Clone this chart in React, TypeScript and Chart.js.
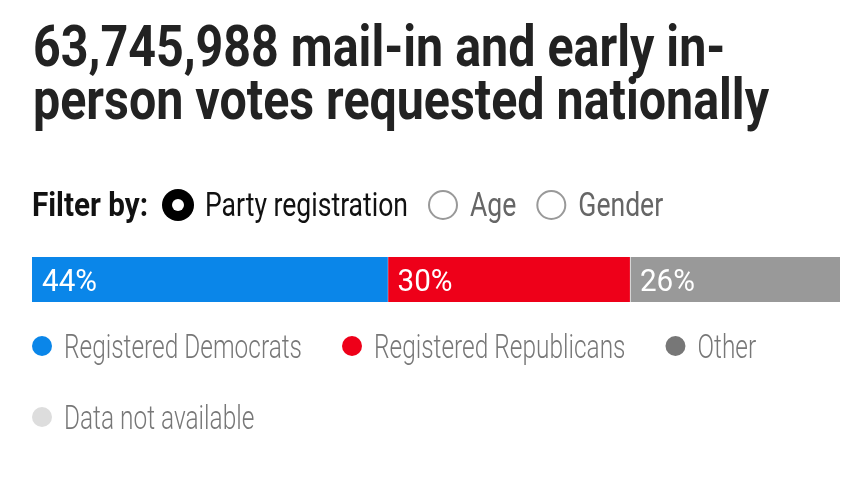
import React, { useEffect, useRef } from "react";
import { Chart, registerables } from "chart.js";

Chart.register(...registerables);

const TITLE_LINES = ["63,745,988 mail-in and early in-", "person votes requested nationally"];
const FILTER_LABEL = "Filter by:";
const FILTER_OPTIONS = ["Party registration", "Age", "Gender"];
const SELECTED_FILTER = 0;
const CATEGORIES = ["Registered Democrats", "Registered Republicans", "Other"];
const SHARES = [44, 30, 26];
const BAR_COLORS = ["#0a86e9", "#ee0019", "#999999"];
const LEGEND_LABELS = ["Registered Democrats", "Registered Republicans", "Other", "Data not available"];
const LEGEND_COLORS = ["#0a86e9", "#ee0019", "#777777", "#dddddd"];

const W = 849;
const H = 489;

function drawCondensed(
  ctx: CanvasRenderingContext2D,
  text: string,
  x: number,
  y: number,
  font: string,
  color: string,
  sx: number
): number {
  ctx.save();
  ctx.font = font;
  ctx.fillStyle = color;
  ctx.textBaseline = "alphabetic";
  ctx.textAlign = "left";
  ctx.translate(x, y);
  ctx.scale(sx, 1);
  ctx.fillText(text, 0, 0);
  const w = ctx.measureText(text).width * sx;
  ctx.restore();
  return w;
}

function scaleFor(ctx: CanvasRenderingContext2D, text: string, font: string, target: number): number {
  ctx.save();
  ctx.font = font;
  const w = ctx.measureText(text).width;
  ctx.restore();
  return target / w;
}

const decorPlugin = {
  id: "decor",
  beforeDraw(chart: any) {
    const ctx: CanvasRenderingContext2D = chart.ctx;
    ctx.save();
    ctx.fillStyle = "#ffffff";
    ctx.fillRect(0, 0, W, H);
    ctx.restore();

    // Title
    const titleFont = "700 58px Roboto";
    const ts = scaleFor(ctx, TITLE_LINES[1], titleFont, 736);
    drawCondensed(ctx, TITLE_LINES[0], 33, 66, titleFont, "#222222", ts);
    drawCondensed(ctx, TITLE_LINES[1], 33, 119, titleFont, "#222222", ts);

    // Filter row
    const fy = 216;
    const lblFont = "700 33px Roboto";
    const ls = scaleFor(ctx, FILTER_LABEL, lblFont, 116);
    let x = 32 + drawCondensed(ctx, FILTER_LABEL, 32, fy, lblFont, "#111111", ls);
    const optFont = "400 33px Roboto";
    const os = scaleFor(ctx, FILTER_OPTIONS[0], optFont, 203);
    FILTER_OPTIONS.forEach((opt, i) => {
      const cx = x + (i === 0 ? 30 : 35);
      const cy = 205;
      ctx.save();
      if (i === SELECTED_FILTER) {
        ctx.beginPath();
        ctx.arc(cx, cy, 16, 0, Math.PI * 2);
        ctx.fillStyle = "#000000";
        ctx.fill();
        ctx.beginPath();
        ctx.arc(cx, cy, 6, 0, Math.PI * 2);
        ctx.fillStyle = "#ffffff";
        ctx.fill();
      } else {
        ctx.beginPath();
        ctx.arc(cx, cy, 14, 0, Math.PI * 2);
        ctx.strokeStyle = "#999999";
        ctx.lineWidth = 2;
        ctx.stroke();
      }
      ctx.restore();
      const tx = cx + 27;
      const col = i === SELECTED_FILTER ? "#111111" : "#666666";
      x = tx + drawCondensed(ctx, opt, tx, fy, optFont, col, os);
    });

    // Legend
    const legFont = "300 33px Roboto";
    const gs = scaleFor(ctx, LEGEND_LABELS[0], legFont, 238);
    let lx = 42;
    let ly = 346;
    LEGEND_LABELS.forEach((lab, i) => {
      if (i === 3) {
        lx = 42;
        ly = 417;
      }
      ctx.save();
      ctx.beginPath();
      ctx.arc(lx, ly, 10, 0, Math.PI * 2);
      ctx.fillStyle = LEGEND_COLORS[i];
      ctx.fill();
      ctx.restore();
      const tw = drawCondensed(ctx, lab, lx + 22, ly + 12, legFont, "#777777", gs);
      lx = lx + 22 + tw + 50;
    });
  },
};

const labelPlugin = {
  id: "barLabels",
  afterDatasetsDraw(chart: any) {
    const ctx: CanvasRenderingContext2D = chart.ctx;
    const font = "400 32px Roboto";
    const s = scaleFor(ctx, "44%", font, 55);
    chart.data.datasets.forEach((ds: any, i: number) => {
      const meta = chart.getDatasetMeta(i);
      const el: any = meta.data[0];
      if (!el) return;
      const left = Math.min(el.x, el.base);
      drawCondensed(ctx, `${ds.data[0]}%`, left + 10, el.y + 11, font, "#ffffff", s);
    });
  },
};

export default function App() {
  const ref = useRef<HTMLCanvasElement | null>(null);
  useEffect(() => {
    if (!ref.current) return;
    const chart = new Chart(ref.current, {
      type: "bar",
      data: {
        labels: [""],
        datasets: CATEGORIES.map((c, i) => ({
          label: c,
          data: [SHARES[i]],
          backgroundColor: BAR_COLORS[i],
          borderColor: "#ffffff",
          borderWidth: i === 0 ? 0 : { left: 1, top: 0, right: 0, bottom: 0 },
          borderSkipped: false,
          barPercentage: 1,
          categoryPercentage: 1,
        })),
      },
      options: {
        indexAxis: "y",
        animation: false,
        responsive: false,
        devicePixelRatio: 1,
        layout: { padding: { left: 32, right: 9, top: 257, bottom: 187 } },
        scales: {
          x: { stacked: true, min: 0, max: 100, display: false },
          y: { stacked: true, display: false },
        },
        plugins: {
          legend: { display: false },
          tooltip: { enabled: false },
          title: { display: false },
        },
      } as any,
      plugins: [decorPlugin, labelPlugin],
    });
    return () => chart.destroy();
  }, []);
  return (
    <div style={{ position: "absolute", left: 0, top: 0, width: W, height: H, background: "#fff" }}>
      <canvas ref={ref} width={W} height={H} style={{ display: "block" }} />
    </div>
  );
}
